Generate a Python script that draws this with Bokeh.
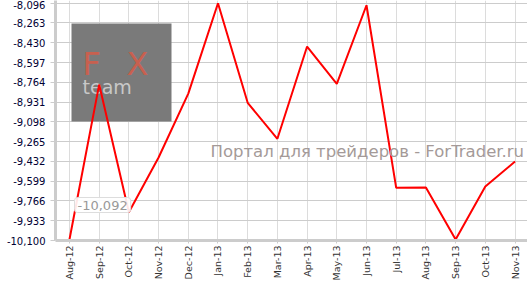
from bokeh.plotting import figure
from bokeh.models import ColumnDataSource, FixedTicker, Label, BoxAnnotation
from bokeh.embed import file_html
from bokeh.resources import INLINE

months = ["Aug-12", "Sep-12", "Oct-12", "Nov-12", "Dec-12", "Jan-13", "Feb-13", "Mar-13",
          "Apr-13", "May-13", "Jun-13", "Jul-13", "Aug-13", "Sep-13", "Oct-13", "Nov-13"]
values = [-10092, -8783, -9861, -9399, -8859, -8096, -8937, -9241,
          -8462, -8777, -8113, -9655, -9652, -10092, -9644, -9433]
y_ticks = [-10100, -9933, -9766, -9599, -9432, -9265, -9098, -8931,
           -8764, -8597, -8430, -8263, -8096]
y_tick_labels = ["-10,100", "-9,933", "-9,766", "-9,599", "-9,432", "-9,265", "-9,098",
                 "-8,931", "-8,764", "-8,597", "-8,430", "-8,263", "-8,096"]
tooltip_text = "-10,092"
watermark = "Портал для трейдеров - ForTrader.ru"

idx = list(range(len(months)))
src = ColumnDataSource(dict(x=idx, y=values))

p = figure(frame_width=472, frame_height=240, output_backend="svg", toolbar_location=None,
           x_range=(-0.47, 15.42), y_range=(-10100, -8073),
           min_border_left=55, min_border_right=0, min_border_top=0, min_border_bottom=0)
p.outline_line_color = None
p.background_fill_color = "white"

# logo underlay (frame-relative screen units)
logo = BoxAnnotation(left=16, right=116, top=217, bottom=119, left_units="screen",
                     right_units="screen", top_units="screen", bottom_units="screen",
                     fill_color="#7a7a7a", fill_alpha=1.0, line_color=None, level="underlay")
p.add_layout(logo)
for ch, lx in (("F", 27), ("X", 71)):
    p.add_layout(Label(x=lx, y=158, x_units="screen", y_units="screen", text=ch,
                       text_font="DejaVu Sans", text_font_size="32px", text_color="#c8604f",
                       level="underlay"))
p.add_layout(Label(x=27, y=143, x_units="screen", y_units="screen", text="team",
                   text_font="DejaVu Sans", text_font_size="19px", text_color="#c8c8c8",
                   level="underlay"))

p.xgrid.ticker = FixedTicker(ticks=idx)
p.ygrid.ticker = FixedTicker(ticks=y_ticks)
p.xgrid.grid_line_color = "#dcdcdc"
p.ygrid.grid_line_color = "#cccccc"

p.xaxis.ticker = FixedTicker(ticks=idx)
p.xaxis.major_label_overrides = {i: m for i, m in enumerate(months)}
p.xaxis.major_label_orientation = 1.5708
p.xaxis.major_label_text_font = "DejaVu Sans"
p.xaxis.major_label_text_font_size = "9.5px"
p.xaxis.major_label_text_color = "#333333"
p.xaxis.axis_line_color = "#cccccc"
p.xaxis.axis_line_width = 3
p.xaxis.major_tick_line_color = "#cccccc"
p.xaxis.major_tick_in = 0
p.xaxis.major_tick_out = 3
p.xaxis.major_label_standoff = 2
p.xaxis.minor_tick_line_color = None

p.yaxis.ticker = FixedTicker(ticks=y_ticks)
p.yaxis.major_label_overrides = {t: l for t, l in zip(y_ticks, y_tick_labels)}
p.yaxis.major_label_text_font = "DejaVu Sans"
p.yaxis.major_label_text_font_size = "10px"
p.yaxis.major_label_text_color = "#000033"
p.yaxis.axis_line_color = "#cccccc"
p.yaxis.axis_line_width = 3
p.yaxis.major_tick_line_color = "#cccccc"
p.yaxis.major_tick_in = 0
p.yaxis.major_tick_out = 5
p.yaxis.minor_tick_line_color = None

p.add_layout(Label(x=155, y=80, x_units="screen", y_units="screen", text=watermark,
                   text_font="DejaVu Sans", text_font_size="16.5px", text_color="#a49a98"))

p.line("x", "y", source=src, line_color="#ff0000", line_width=2)

p.add_layout(Label(x=19, y=28, x_units="screen", y_units="screen", text=tooltip_text,
                   text_font="DejaVu Sans", text_font_size="13px", text_color="#999999",
                   background_fill_color="white", background_fill_alpha=0.9,
                   border_line_color="#dddddd", padding=3, border_radius=3))

open("out.html", "w").write(file_html(p, INLINE))
